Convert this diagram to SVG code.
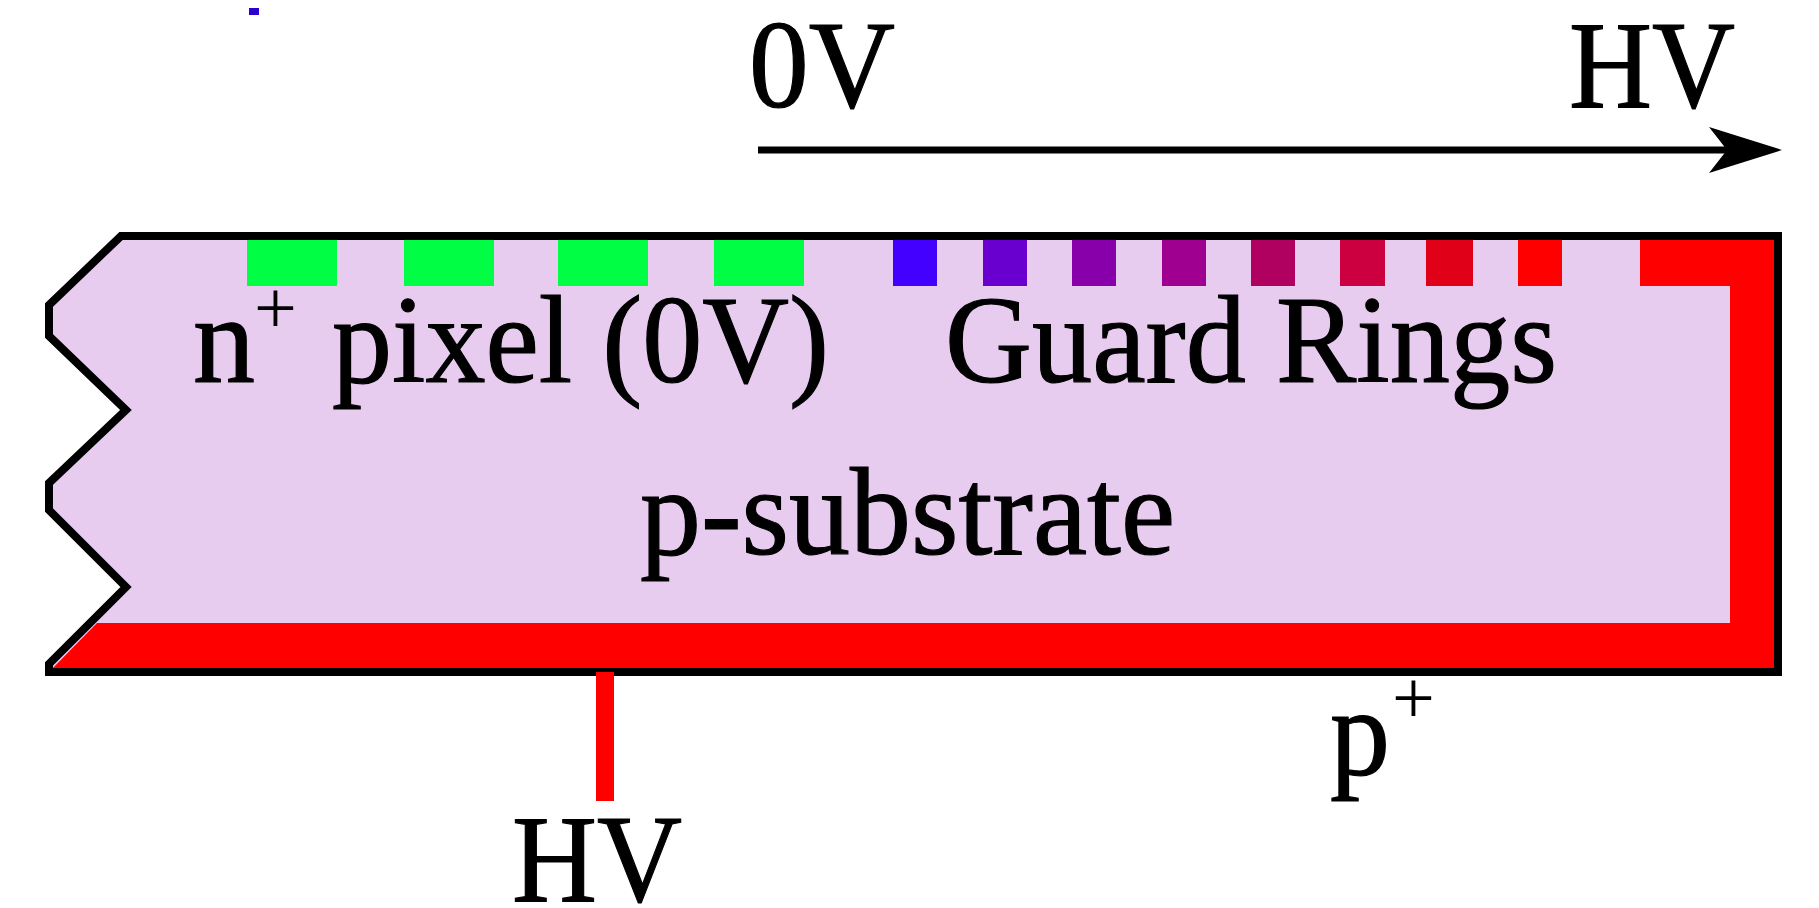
<svg xmlns="http://www.w3.org/2000/svg" width="1819" height="908" viewBox="0 0 1819 908">
<style>
text{font-family:"Liberation Serif","Times New Roman",serif;fill:#000;font-size:124px;stroke:#000;stroke-width:1.2}
.sup{font-size:76px;stroke-width:0}
.o{fill:none;stroke:#000;stroke-width:8;stroke-linejoin:miter}
</style>
<defs><marker id="a" markerUnits="userSpaceOnUse" markerWidth="74" markerHeight="46" refX="20" refY="23" orient="auto"><path d="M0 0L73 23L0 46L18 23Z" fill="#000"/></marker></defs>
<rect width="1819" height="908" fill="#fff"/>
<rect x="249" y="8" width="10" height="7" fill="#2a00d0"/>
<g id="substrate">
<path d="M121 236H1778V672H49V664L126 587L49 510V483L126 410L49 336V305Z" fill="#e8ccf0"/>
<path d="M1640 239H1778V672H49L97 623H1730V286H1640Z" fill="#ff0000"/>
<path class="o" d="M121 236H1778V672H49V664L126 587L49 510V483L126 410L49 336V305Z"/>
</g>
<g id="pixels" fill="#00ff44">
<rect x="247" y="240" width="90" height="46"/><rect x="404" y="240" width="90" height="46"/><rect x="558" y="240" width="90" height="46"/><rect x="714" y="240" width="90" height="46"/>
</g>
<g id="guard-rings">
<rect x="893" y="240" width="44" height="46" fill="#4400ff"/><rect x="983" y="240" width="44" height="46" fill="#6a00d0"/><rect x="1072" y="240" width="44" height="46" fill="#8800aa"/><rect x="1162" y="240" width="44" height="46" fill="#a00090"/><rect x="1251" y="240" width="44" height="46" fill="#b00060"/><rect x="1340" y="240" width="45" height="46" fill="#cc0040"/><rect x="1426" y="240" width="47" height="46" fill="#e00018"/><rect x="1518" y="240" width="44" height="46" fill="#ff0000"/>
</g>
<g id="connectors">
<line x1="605" y1="672" x2="605" y2="801" stroke="#ff0000" stroke-width="18"/>
<line x1="758" y1="150" x2="1729" y2="150" stroke="#000" stroke-width="7" marker-end="url(#a)"/>
</g>
<g id="labels">
<text x="749" y="107" textLength="146" lengthAdjust="spacingAndGlyphs">0V</text>
<text x="1569" y="107" textLength="166" lengthAdjust="spacingAndGlyphs">HV</text>
<text x="193" y="382" textLength="62" lengthAdjust="spacingAndGlyphs">n</text><text class="sup" x="254" y="333">+</text>
<text x="332" y="382" textLength="497" lengthAdjust="spacingAndGlyphs">pixel (0V)</text>
<text x="945" y="382" textLength="612" lengthAdjust="spacingAndGlyphs">Guard Rings</text>
<text x="640" y="554" textLength="535" lengthAdjust="spacingAndGlyphs">p-substrate</text>
<text x="1330" y="774" textLength="60" lengthAdjust="spacingAndGlyphs">p</text><text class="sup" x="1392" y="723">+</text>
<text x="512" y="901" textLength="170" lengthAdjust="spacingAndGlyphs">HV</text>
</g>
</svg>
